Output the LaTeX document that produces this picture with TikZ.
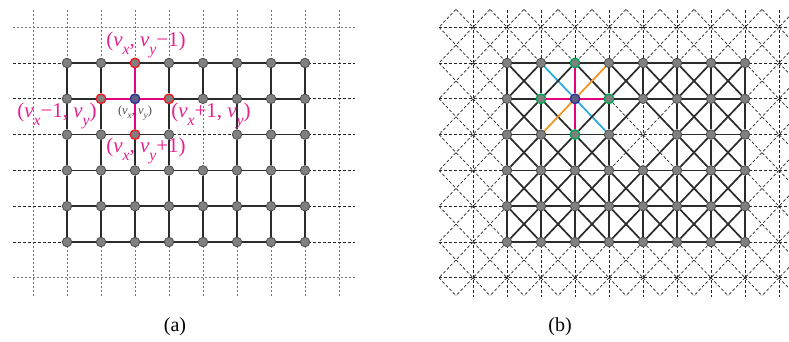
\documentclass[tikz,border=0pt]{standalone}
\usepackage{graphicx}
\usepackage{fontspec}
\setmainfont{Liberation Serif}
\definecolor{mag}{HTML}{E5007D}
\definecolor{lab}{HTML}{E8208E}
\definecolor{cyn}{HTML}{29ABE2}
\definecolor{orn}{HTML}{F7931E}
\definecolor{grn}{HTML}{00A651}
\definecolor{nvy}{HTML}{2E3192}
\definecolor{redo}{HTML}{ED1C24}
\definecolor{edgec}{HTML}{2B2B2B}
\newcommand\subx[1]{\raisebox{-0.36em}{\scalebox{0.75}{\textit{#1}}}}
\newif\ifgonept
\newif\ifhotpt
\newif\ifnbpt
% #1,#2 = first end, #3,#4 = second end
\newcommand\checkends[4]{%
  \goneptfalse\hotptfalse
  \ifnum#1=4 \ifnum#2=2 \gonepttrue\fi\fi
  \ifnum#3=4 \ifnum#4=2 \gonepttrue\fi\fi
  \ifnum#1=2 \ifnum#2=1 \hotpttrue\fi\fi
  \ifnum#3=2 \ifnum#4=1 \hotpttrue\fi\fi}
\newcommand\checknb[2]{%
  \nbptfalse
  \ifnum#1=2 \ifnum#2=0 \nbpttrue\fi\fi
  \ifnum#1=1 \ifnum#2=1 \nbpttrue\fi\fi
  \ifnum#1=3 \ifnum#2=1 \nbpttrue\fi\fi
  \ifnum#1=2 \ifnum#2=2 \nbpttrue\fi\fi}
\tikzset{
  vtx/.style={circle, fill=black!50, draw=black!70, line width=0.8pt, minimum size=9.5pt, inner sep=0pt},
  ctr/.style={draw=nvy, line width=1.4pt, fill=black!45!nvy!70},
  nbA/.style={draw=redo, line width=1.4pt},
  nbB/.style={draw=grn, line width=1.4pt},
  solidedge/.style={draw=edgec, line width=1.7pt},
  coledge/.style={draw=mag, line width=1.7pt},
  cyedge/.style={draw=cyn, line width=1.7pt},
  oredge/.style={draw=orn, line width=1.7pt},
  bgdot/.style={draw=black!55, dash pattern=on 2pt off 2pt, line width=0.9pt},
  bgdash/.style={draw=black!85, dash pattern=on 3pt off 2pt, line width=0.7pt},
  lbl/.style={text=lab, font=\fontsize{21}{21}\selectfont, inner sep=0pt},
  captext/.style={font=\fontsize{20}{20}\selectfont, inner sep=0pt}
}
\begin{document}
\begin{tikzpicture}[x=1pt,y=-1pt]
\useasboundingbox (0,0) rectangle (789,342);
% ---------- panel (a) background ----------
\foreach \k in {0,...,9} \draw[bgdot] ({33+34*\k},10) -- ({33+34*\k},297);
\draw[bgdot] (13,27.2) -- (355,27.2);
\draw[bgdot] (13,277.8) -- (355,277.8);
\foreach \k in {0,...,5} \draw[bgdash] (13,{63+35.8*\k}) -- (355,{63+35.8*\k});
% ---------- panel (b) background ----------
\foreach \k in {0,...,9} \draw[bgdash] ({473+34*\k},10) -- ({473+34*\k},297);
\foreach \k in {0,...,7} \draw[bgdash] (439,{27.2+35.8*\k}) -- (789,{27.2+35.8*\k});
\begin{scope}
  \clip (439,9.3) rectangle (789,295.7);
  \foreach \a in {0,...,10} \foreach \b in {0,...,9} {
    \draw[bgdash] ({439+34*\a},{-8.6+35.8*\b}) -- ++(34,35.8);
    \draw[bgdash] ({473+34*\a},{-8.6+35.8*\b}) -- ++(-34,35.8);
  }
\end{scope}
% ---------- nodes ----------
\foreach \i in {0,...,7} {\foreach \j in {0,...,5} {
  \checkends{\i}{\j}{\i}{\j}
  \checknb{\i}{\j}
  \ifgonept\else
    \ifhotpt
      \node[vtx,ctr] (a-\i-\j) at ({67+34*\i},{63+35.8*\j}) {};
      \node[vtx,ctr] (b-\i-\j) at ({507+34*\i},{63+35.8*\j}) {};
    \else
      \ifnbpt
        \node[vtx,nbA] (a-\i-\j) at ({67+34*\i},{63+35.8*\j}) {};
        \node[vtx,nbB] (b-\i-\j) at ({507+34*\i},{63+35.8*\j}) {};
      \else
        \node[vtx] (a-\i-\j) at ({67+34*\i},{63+35.8*\j}) {};
        \node[vtx] (b-\i-\j) at ({507+34*\i},{63+35.8*\j}) {};
      \fi
    \fi
  \fi
}}
% ---------- horizontal edges ----------
\foreach \i in {0,...,6} {\foreach \j in {0,...,5} {
  \pgfmathtruncatemacro\ip{\i+1}
  \checkends{\i}{\j}{\ip}{\j}
  \ifgonept\else
    \ifhotpt
      \draw[coledge] (a-\i-\j) -- (a-\ip-\j);
      \draw[coledge] (b-\i-\j) -- (b-\ip-\j);
    \else
      \draw[solidedge] (a-\i-\j) -- (a-\ip-\j);
      \draw[solidedge] (b-\i-\j) -- (b-\ip-\j);
    \fi
  \fi
}}
% ---------- vertical edges ----------
\foreach \i in {0,...,7} {\foreach \j in {0,...,4} {
  \pgfmathtruncatemacro\jp{\j+1}
  \checkends{\i}{\j}{\i}{\jp}
  \ifgonept\else
    \ifhotpt
      \draw[coledge] (a-\i-\j) -- (a-\i-\jp);
      \draw[coledge] (b-\i-\j) -- (b-\i-\jp);
    \else
      \draw[solidedge] (a-\i-\j) -- (a-\i-\jp);
      \draw[solidedge] (b-\i-\j) -- (b-\i-\jp);
    \fi
  \fi
}}
% ---------- diagonal edges (b) ----------
\foreach \i in {0,...,6} {\foreach \j in {0,...,4} {
  \pgfmathtruncatemacro\ip{\i+1}
  \pgfmathtruncatemacro\jp{\j+1}
  \checkends{\i}{\j}{\ip}{\jp}
  \ifgonept\else
    \ifhotpt
      \draw[cyedge] (b-\i-\j) -- (b-\ip-\jp);
    \else
      \draw[solidedge] (b-\i-\j) -- (b-\ip-\jp);
    \fi
  \fi
  \checkends{\ip}{\j}{\i}{\jp}
  \ifgonept\else
    \ifhotpt
      \draw[oredge] (b-\ip-\j) -- (b-\i-\jp);
    \else
      \draw[solidedge] (b-\ip-\j) -- (b-\i-\jp);
    \fi
  \fi
}}
% ---------- labels ----------
\node[lbl] (l-top) at (146,45) {(\textit{v}\subx{x}, \textit{v}\subx{y}−1)};
\node[lbl] (l-left) at (57,116) {(\textit{v}\subx{x}−1, \textit{v}\subx{y})};
\node[lbl] (l-right) at (211,116) {(\textit{v}\subx{x}+1, \textit{v}\subx{y})};
\node[lbl] (l-bot) at (146,151) {(\textit{v}\subx{x}, \textit{v}\subx{y}+1)};
\node[text=black!70, font=\fontsize{12.5}{12.5}\selectfont, inner sep=0pt] (l-ctr) at (135,113) {(\textit{v}\subx{x}, \textit{v}\subx{y})};
\node[captext] (cap-a) at (175,327) {(a)};
\node[captext] (cap-b) at (560,327) {(b)};
\end{tikzpicture}
\end{document}
